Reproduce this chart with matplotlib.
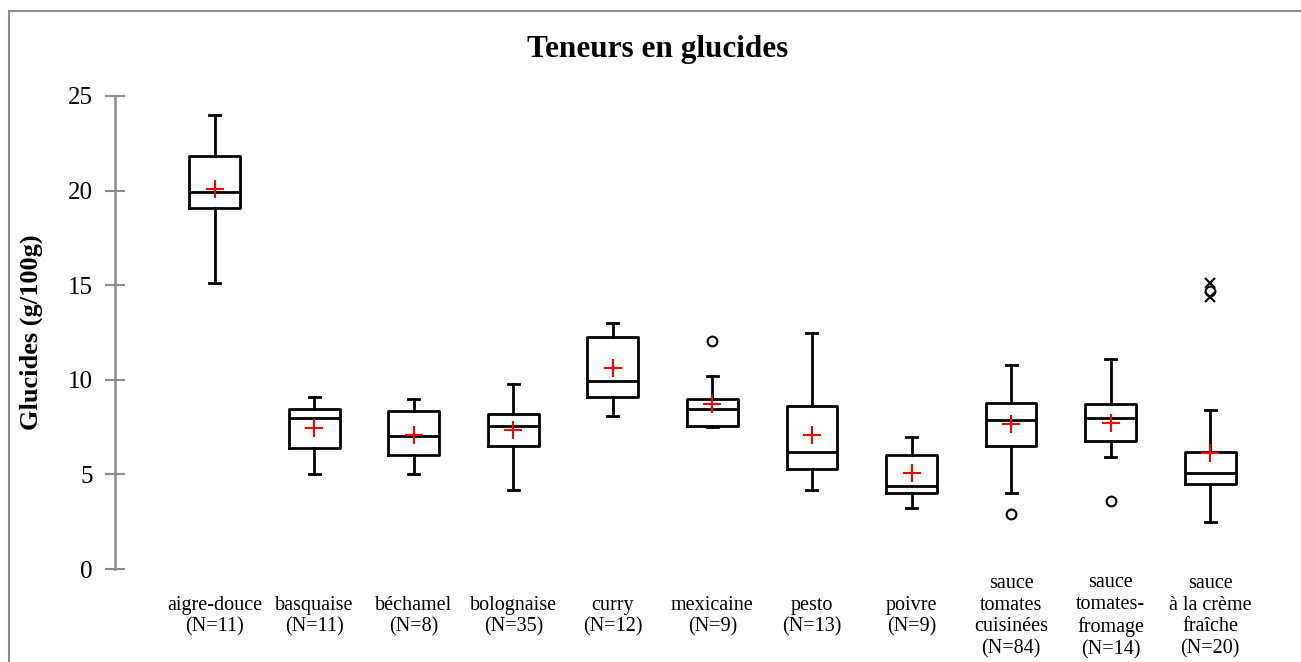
import matplotlib
matplotlib.use('Agg')
import matplotlib.pyplot as plt
from matplotlib.patches import Rectangle

plt.rcParams['font.family'] = ['Liberation Serif', 'DejaVu Serif']

# Sauce categories and box statistics (g/100g)
categories = ['aigre-douce\n(N=11)', 'basquaise\n(N=11)', 'béchamel\n(N=8)',
              'bolognaise\n(N=35)', 'curry\n(N=12)', 'mexicaine\n(N=9)',
              'pesto\n(N=13)', 'poivre\n(N=9)',
              'sauce\ntomates\ncuisinées\n(N=84)', 'sauce\ntomates-\nfromage\n(N=14)',
              'sauce\nà la crème\nfraîche\n(N=20)']
whisker_low = [15.1, 5.0, 5.0, 4.2, 8.1, 7.5, 4.2, 3.2, 4.0, 5.9, 2.5]
q1 = [19.1, 6.4, 6.0, 6.5, 9.1, 7.55, 5.3, 4.0, 6.5, 6.75, 4.5]
median = [19.95, 8.0, 7.05, 7.55, 9.95, 8.45, 6.2, 4.4, 7.85, 8.0, 5.1]
q3 = [21.85, 8.45, 8.35, 8.2, 12.25, 9.0, 8.6, 6.0, 8.8, 8.7, 6.2]
whisker_high = [24.0, 9.1, 9.0, 9.8, 13.0, 10.2, 12.5, 7.0, 10.8, 11.1, 8.4]
means = [20.1, 7.45, 7.1, 7.35, 10.6, 8.7, 7.1, 5.05, 7.65, 7.7, 6.15]
outliers = [[], [], [], [], [], [12.05], [], [], [2.9], [3.6], [14.7]]
extremes = [[], [], [], [], [], [], [], [], [], [], [15.1, 14.4]]

stats = []
for i in range(len(categories)):
    stats.append({'whislo': whisker_low[i], 'q1': q1[i], 'med': median[i],
                  'q3': q3[i], 'whishi': whisker_high[i], 'fliers': outliers[i]})

fig = plt.figure(figsize=(13.01, 6.62), dpi=100)
ax = fig.add_axes([115 / 1301, 1 - 569 / 662, 1150 / 1301, 473 / 662])

positions = list(range(1, len(categories) + 1))
lw = 2.0
ax.bxp(stats, positions=positions, widths=0.51, capwidths=0.11, showmeans=False,
       boxprops=dict(color='black', linewidth=lw),
       medianprops=dict(color='black', linewidth=lw),
       whiskerprops=dict(color='black', linewidth=lw),
       capprops=dict(color='black', linewidth=lw),
       flierprops=dict(marker='o', markersize=7, markerfacecolor='none',
                       markeredgecolor='black', markeredgewidth=1.5))

ax.plot(positions, means, linestyle='none', marker='+', color='red',
        markersize=13, markeredgewidth=1.5, zorder=5)

for pos, vals in zip(positions, extremes):
    if vals:
        ax.plot([pos] * len(vals), vals, linestyle='none', marker='x', color='black',
                markersize=7, markeredgewidth=1.5, zorder=5)

ax.set_xlim(0, 11.55)
ax.set_ylim(0, 25)
ax.set_yticks([0, 5, 10, 15, 20, 25])
ax.set_xticks(positions)
ax.set_xticklabels(categories, fontsize=14.5, linespacing=1.2)
for lab in ax.get_xticklabels():
    lab.set_verticalalignment('center')
ax.tick_params(axis='x', length=0, pad=34)
ax.tick_params(axis='y', direction='inout', length=14, width=1.5, color='#8c8c8c',
               labelsize=18, pad=9)

for s in ['top', 'right', 'bottom']:
    ax.spines[s].set_visible(False)
ax.spines['left'].set_color('#8c8c8c')
ax.spines['left'].set_linewidth(1.8)

ax.set_ylabel('Glucides (g/100g)', fontsize=19, fontweight='bold', labelpad=18)

fig.text(658 / 1301, 1 - 50 / 662, 'Teneurs en glucides', fontsize=22.5,
         fontweight='bold', ha='center', va='center')

# outer chart frame (only left and top edges visible)
fig.patches.append(Rectangle((9 / 1301, -0.1), 2, 1 - 11 / 662 + 0.1,
                             transform=fig.transFigure, fill=False,
                             edgecolor='#8c8c8c', linewidth=1.5))

fig.savefig('out.png', dpi=100)
